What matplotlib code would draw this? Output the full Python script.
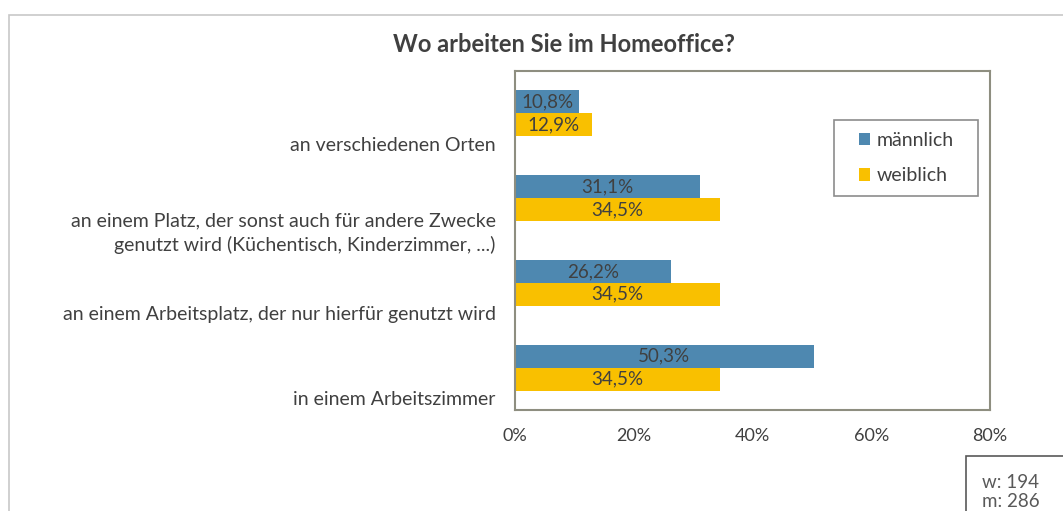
import matplotlib.pyplot as plt
import matplotlib.patches as patches
import numpy as np

plt.rcParams['font.family'] = ['Lato', 'DejaVu Sans']

# data
categories = ['an verschiedenen Orten',
              'an einem Platz, der sonst auch für andere Zwecke\ngenutzt wird (Küchentisch, Kinderzimmer, ...)',
              'an einem Arbeitsplatz, der nur hierfür genutzt wird',
              'in einem Arbeitszimmer']
maennlich = [10.8, 31.1, 26.2, 50.3]
weiblich = [12.9, 34.5, 34.5, 34.5]
series_names = ['männlich', 'weiblich']
x_ticks = [0, 20, 40, 60, 80]
n_note = 'w: 194\nm: 286'

blue = '#4E88B0'
yellow = '#F9C000'
txt = '#404040'
spine = '#8E8E80'

W, H = 1063, 511
fig = plt.figure(figsize=(W / 100, H / 100), dpi=100)

def px(x0, y0, x1, y1):
    # pixel box (top-left origin) -> figure fraction rect
    return (x0 / W, 1 - y1 / H, (x1 - x0) / W, (y1 - y0) / H)

# outer chart frame (cut at right/bottom)
fig.patches.append(patches.Rectangle((9 / W, -0.05), 1.1, 1 - 15 / H + 0.05,
                                     transform=fig.transFigure, fill=False,
                                     edgecolor='#C8C8C8', linewidth=1.2))

ax = fig.add_axes(px(515, 71, 990, 410))

y = np.arange(len(categories))[::-1]
bh = 0.27
b1 = ax.barh(y + bh / 2, maennlich, height=bh, color=blue, label=series_names[0])
b2 = ax.barh(y - bh / 2, weiblich, height=bh, color=yellow, label=series_names[1])

def fmt(v):
    return f'{v:.1f}%'.replace('.', ',')

for bars, vals in ((b1, maennlich), (b2, weiblich)):
    for rect, v in zip(bars, vals):
        ax.text(rect.get_x() + rect.get_width() / 2, rect.get_y() + rect.get_height() / 2,
                fmt(v), ha='center', va='center', fontsize=13.5, color=txt)

ax.set_xlim(0, 80)
ax.set_ylim(-0.5, len(categories) - 0.5)
ax.set_xticks(x_ticks)
ax.set_xticklabels([f'{t}%' for t in x_ticks], fontsize=13, color=txt)
ax.set_yticks(y - 0.36)
ax.set_yticklabels(categories, fontsize=14, color=txt, ha='right',
                   multialignment='right', linespacing=1.45)
ax.tick_params(axis='both', length=0)
ax.tick_params(axis='x', pad=13)
ax.tick_params(axis='y', pad=14)
for s in ax.spines.values():
    s.set_color(spine)
    s.set_linewidth(1.5)

fig.text(564 / W, 1 - 44 / H, 'Wo arbeiten Sie im Homeoffice?', ha='center', va='center',
         fontsize=17, fontweight='bold', color=txt)

# legend box
lb = px(834, 120, 978, 196)
fig.patches.append(patches.Rectangle((lb[0], lb[1]), lb[2], lb[3], transform=fig.transFigure,
                                     fill=False, edgecolor='#8C8C8C', linewidth=1.2))
ax.legend(loc='center', bbox_to_anchor=(lb[0] + lb[2] / 2, lb[1] + lb[3] / 2),
          bbox_transform=fig.transFigure, fontsize=14, frameon=False,
          handlelength=0.6, handleheight=0.6, handletextpad=0.3, labelspacing=0.95,
          labelcolor=txt)

# sample size note
nb = px(966, 456, 1075, 530)
fig.patches.append(patches.Rectangle((nb[0], nb[1]), nb[2], nb[3], transform=fig.transFigure,
                                     fill=False, edgecolor='#595959', linewidth=1.2,
                                     clip_on=False))
fig.text(982 / W, 1 - 492 / H, n_note, ha='left', va='center', fontsize=13.5,
         color='#595959', linespacing=1.1)

fig.savefig('out.png', dpi=100)
